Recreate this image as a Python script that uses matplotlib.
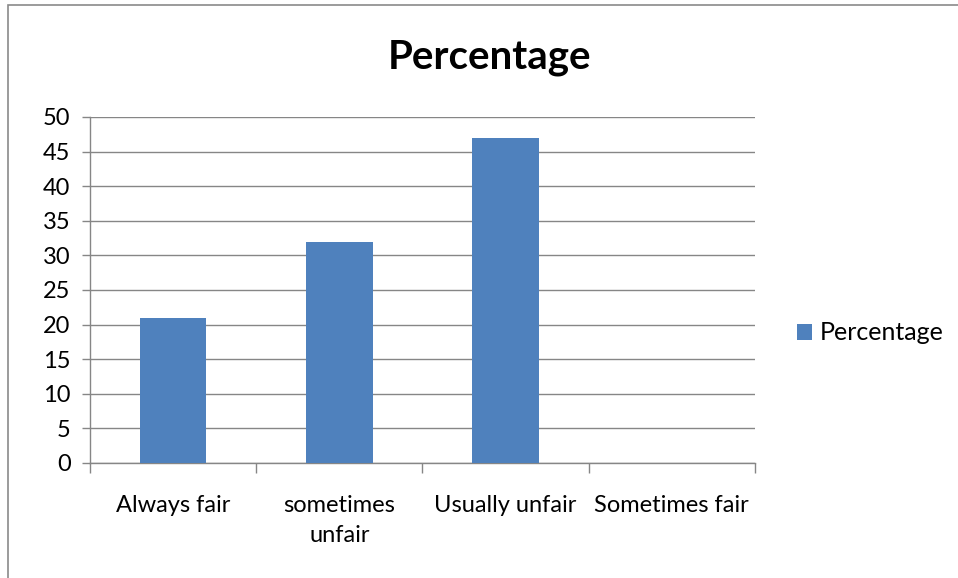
import matplotlib.pyplot as plt
from matplotlib.patches import Rectangle

plt.rcParams['font.family'] = ['Lato', 'DejaVu Sans']

# Survey answers and their share
categories = ['Always fair', 'sometimes\nunfair', 'Usually unfair', 'Sometimes fair']
percentage = [21, 32, 47, 0]
series_name = 'Percentage'

bar_color = '#4F81BD'
grid_color = '#868686'

fig = plt.figure(figsize=(9.58, 5.78), dpi=100)
ax = fig.add_axes([0.094, 0.199, 0.694, 0.5986])

x = range(len(categories))
ax.bar(x, percentage, width=0.4, color=bar_color, label=series_name, zorder=3)

ax.set_xlim(-0.5, len(categories) - 0.5)
ax.set_ylim(0, 50)
ax.set_yticks(range(0, 51, 5))
ax.yaxis.grid(True, color=grid_color, linewidth=1, zorder=0)

# category labels sit between the boundary ticks
ax.set_xticks(list(x))
ax.set_xticklabels(categories, fontsize=17, linespacing=1.55)
ax.tick_params(axis='x', length=0, pad=23)
ax.set_xticks([i - 0.5 for i in range(len(categories) + 1)], minor=True)
ax.tick_params(axis='x', which='minor', length=7, color=grid_color, width=1)
ax.tick_params(axis='y', length=6, color=grid_color, width=1, labelsize=17, pad=8)

for side in ('top', 'right'):
    ax.spines[side].set_visible(False)
for side in ('left', 'bottom'):
    ax.spines[side].set_color(grid_color)
    ax.spines[side].set_linewidth(1)

fig.text(0.511, 0.9, 'Percentage', fontsize=29, fontweight='bold',
         ha='center', va='center')

ax.legend(loc='center left', bbox_to_anchor=(1.03, 0.376), frameon=False,
          fontsize=18, handlelength=0.6, handleheight=0.6, handletextpad=0.3)

# outer chart frame
fig.patches.append(Rectangle((8 / 958, -0.01), 1.0, 1.0 - 5 / 578 + 0.01,
                             transform=fig.transFigure, fill=False,
                             edgecolor='#8a8a8a', linewidth=1.2))

fig.savefig('out.png', dpi=100)
